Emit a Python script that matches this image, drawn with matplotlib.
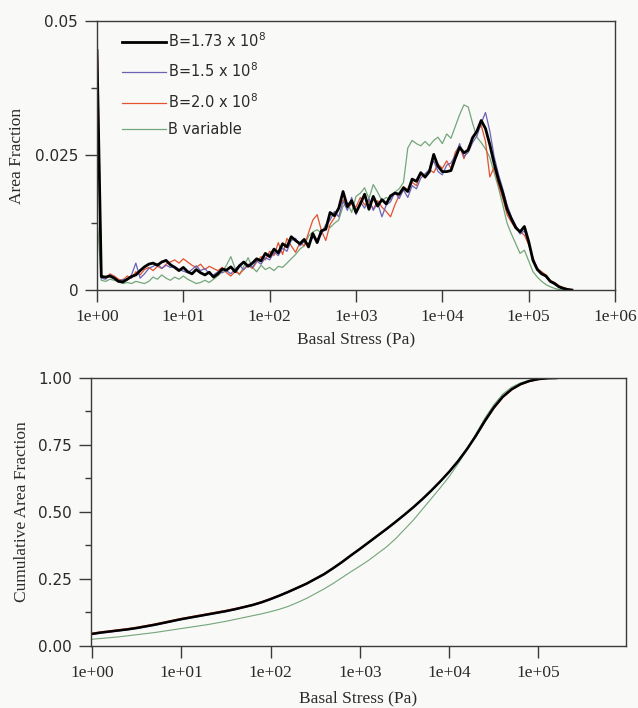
# Area fraction vs basal stress for several values of B
import numpy as np
import matplotlib
matplotlib.use('Agg')
import matplotlib.pyplot as plt
from matplotlib.ticker import FixedLocator, MultipleLocator

# bins in log10(stress), 20 per decade
log_stress = np.arange(0, 5.51, 0.05)
stress = 10 ** log_stress

# area fraction in units of 1e-3
frac_b173 = [44.5, 2.5, 2.4, 2.6, 2.2, 1.6, 1.5, 2.0, 2.5, 2.8,
             3.6, 4.3, 4.8, 5.0, 4.6, 5.2, 5.5, 4.7, 4.2, 3.6,
             4.2, 3.4, 3.0, 3.8, 3.2, 2.8, 3.3, 2.4, 3.0, 3.9,
             3.7, 4.3, 3.4, 4.5, 5.2, 4.4, 5.0, 5.8, 5.4, 6.8,
             6.2, 7.6, 6.9, 8.6, 8.0, 9.9, 9.2, 8.6, 9.4, 8.0,
             10.5, 8.8, 11.0, 11.3, 14.4, 13.8, 15.2, 18.3, 15.5, 16.6,
             14.4, 16.0, 17.8, 15.0, 17.4, 15.6, 16.8, 16.0, 17.5, 18.0,
             17.8, 19.0, 18.3, 20.6, 20.2, 21.8, 21.0, 22.0, 25.2, 23.0,
             22.0, 22.0, 22.2, 24.5, 26.5, 25.5, 26.0, 28.3, 29.5, 31.5,
             30.0, 27.0, 23.5, 20.5, 18.0, 15.0, 13.2, 11.6, 10.8, 11.8,
             9.0, 5.5, 3.8, 3.0, 2.6, 1.6, 1.2, 0.6, 0.3, 0.1, 0.0]

frac_b15 = [42.0, 2.2, 2.0, 2.8, 2.4, 1.5, 2.0, 1.8, 2.8, 5.0,
            2.2, 3.0, 4.0, 4.4, 4.9, 4.0, 4.6, 4.2, 4.4, 3.8,
            3.5, 3.2, 3.8, 4.5, 3.6, 4.0, 3.0, 2.8, 3.4, 3.2,
            3.6, 3.0, 3.9, 4.6, 3.8, 4.8, 4.2, 5.4, 4.8, 6.0,
            5.6, 7.0, 6.4, 7.8, 7.2, 9.2, 9.6, 8.2, 9.0, 8.6,
            9.8, 9.4, 10.4, 12.0, 13.0, 14.6, 13.6, 16.5, 14.8, 17.2,
            14.0, 16.4, 15.2, 17.0, 14.8, 16.2, 13.6, 15.8, 16.4, 18.2,
            17.0, 18.6, 17.2, 19.4, 18.8, 20.8, 21.6, 22.4, 24.0, 22.0,
            21.4, 23.2, 23.6, 25.0, 27.2, 24.8, 25.6, 27.4, 28.6, 31.0,
            33.0, 29.5, 24.8, 21.5, 18.8, 15.8, 13.6, 12.0, 10.4, 11.0,
            8.8, 5.8, 4.0, 3.2, 2.4, 1.6, 1.0, 0.6, 0.3, 0.1, 0.0]

frac_b20 = [50.0, 2.8, 2.2, 3.0, 2.6, 2.0, 1.8, 2.6, 2.2, 3.4,
            2.8, 3.8, 4.2, 3.6, 4.4, 4.0, 4.8, 5.2, 5.6, 5.0,
            5.8, 5.2, 4.6, 4.2, 4.8, 3.8, 4.4, 4.0, 3.6, 4.2,
            3.2, 2.6, 3.4, 3.0, 3.8, 4.6, 4.0, 5.2, 6.2, 5.6,
            7.2, 6.4, 8.8, 6.6, 9.6, 8.2, 7.0, 8.8, 8.2, 10.6,
            13.0, 14.0, 11.0, 9.2, 12.2, 13.4, 15.0, 16.8, 15.2, 16.0,
            15.4, 17.2, 15.8, 16.6, 15.0, 16.6, 15.4, 14.6, 13.6, 15.8,
            17.6, 19.2, 18.6, 20.0, 19.4, 21.6, 20.8, 22.4, 21.8, 23.4,
            22.6, 24.0, 22.6, 25.6, 26.8, 24.4, 26.6, 28.0, 29.4, 30.6,
            27.6, 21.0, 22.8, 19.6, 17.0, 14.0, 12.6, 11.4, 10.8, 10.2,
            8.4, 6.0, 4.0, 3.4, 2.8, 1.8, 1.4, 0.8, 0.5, 0.2, 0.0]

frac_bvar = [14.0, 1.8, 1.6, 2.0, 1.8, 1.5, 1.2, 1.4, 1.2, 1.6,
             1.4, 1.2, 1.6, 2.4, 2.0, 2.8, 2.2, 1.8, 2.4, 2.0,
             2.6, 2.0, 1.6, 1.2, 1.4, 1.8, 1.4, 2.0, 2.6, 3.4,
             4.6, 6.2, 4.0, 2.8, 4.4, 6.0, 4.2, 3.4, 4.6, 3.8,
             4.2, 3.6, 4.4, 4.2, 5.0, 5.8, 6.6, 7.6, 8.2, 10.0,
             10.8, 11.2, 10.6, 12.2, 11.6, 12.4, 13.0, 15.6, 16.2, 14.4,
             17.4, 18.0, 19.0, 17.0, 19.6, 18.2, 16.6, 17.2, 16.8, 18.2,
             18.8, 20.0, 26.4, 27.8, 27.2, 26.8, 27.6, 26.8, 27.8, 28.4,
             27.2, 29.0, 28.2, 30.4, 32.6, 34.4, 34.0, 31.0, 28.4, 27.4,
             26.2, 24.6, 21.8, 19.0, 15.8, 12.4, 10.4, 8.6, 6.8, 7.4,
             5.4, 3.4, 2.4, 1.6, 1.0, 0.6, 0.3, 0.1, 0.0, 0.0, 0.0]

# cumulative area fraction, 10 per decade
log_stress_c = np.arange(0, 5.21, 0.1)
stress_c = 10 ** log_stress_c

cum_b173 = [0.045, 0.050, 0.054, 0.058, 0.062, 0.067, 0.073, 0.079, 0.086, 0.093,
            0.100, 0.106, 0.112, 0.118, 0.124, 0.130, 0.137, 0.145, 0.153, 0.163,
            0.175, 0.188, 0.202, 0.217, 0.232, 0.250, 0.268, 0.290, 0.313, 0.338,
            0.362, 0.387, 0.412, 0.437, 0.463, 0.490, 0.518, 0.548, 0.580, 0.614,
            0.650, 0.690, 0.735, 0.785, 0.840, 0.890, 0.930, 0.958, 0.977, 0.989,
            0.996, 0.999, 1.000]
cum_b15 = [0.043, 0.048, 0.052, 0.056, 0.060, 0.065, 0.071, 0.077, 0.084, 0.091,
           0.098, 0.104, 0.110, 0.116, 0.122, 0.128, 0.135, 0.143, 0.151, 0.161,
           0.173, 0.186, 0.200, 0.215, 0.230, 0.248, 0.266, 0.288, 0.311, 0.336,
           0.360, 0.385, 0.410, 0.435, 0.461, 0.488, 0.516, 0.546, 0.578, 0.612,
           0.648, 0.687, 0.731, 0.781, 0.836, 0.887, 0.928, 0.957, 0.976, 0.988,
           0.995, 0.999, 1.000]
cum_b20 = [0.048, 0.053, 0.057, 0.061, 0.065, 0.070, 0.076, 0.082, 0.089, 0.096,
           0.103, 0.109, 0.115, 0.121, 0.127, 0.133, 0.140, 0.147, 0.155, 0.165,
           0.177, 0.190, 0.204, 0.219, 0.234, 0.252, 0.270, 0.292, 0.315, 0.340,
           0.364, 0.389, 0.414, 0.439, 0.465, 0.491, 0.519, 0.549, 0.581, 0.615,
           0.651, 0.690, 0.734, 0.783, 0.836, 0.885, 0.926, 0.955, 0.975, 0.987,
           0.994, 0.998, 1.000]
cum_bvar = [0.025, 0.028, 0.031, 0.034, 0.038, 0.042, 0.046, 0.050, 0.055, 0.060,
            0.065, 0.070, 0.075, 0.080, 0.086, 0.092, 0.099, 0.106, 0.113, 0.120,
            0.128, 0.137, 0.148, 0.162, 0.177, 0.195, 0.213, 0.233, 0.255, 0.277,
            0.298, 0.320, 0.345, 0.370, 0.400, 0.435, 0.470, 0.510, 0.550, 0.590,
            0.632, 0.680, 0.732, 0.792, 0.850, 0.900, 0.940, 0.966, 0.982, 0.992,
            0.997, 1.000, 1.000]

labels = ['B=1.73 x 10$^{8}$', 'B=1.5 x 10$^{8}$', 'B=2.0 x 10$^{8}$', 'B variable']
colors = ['#000000', '#6a62b4', '#e4522e', '#74a67a']
widths = [2.0, 0.9, 0.9, 0.9]

x_ticks = [1e0, 1e1, 1e2, 1e3, 1e4, 1e5, 1e6]
x_ticklabels = ['1e+00', '1e+01', '1e+02', '1e+03', '1e+04', '1e+05', '1e+06']

bg = '#f9f9f8'
spine_col = '#3a3a3a'
text_col = '#2a2a2a'
serif = 'Liberation Serif'

fig = plt.figure(figsize=(6.38, 7.08), dpi=100, facecolor=bg)

# ---- top panel: area fraction ----
ax1 = fig.add_axes([0.152, 0.5904, 0.812, 0.380], facecolor=bg)
series = [frac_b173, frac_b15, frac_b20, frac_bvar]
order = [3, 2, 1, 0]  # draw black last
lines = {}
for i in order:
    ln, = ax1.plot(stress, np.array(series[i]) * 1e-3, color=colors[i],
                   lw=widths[i], label=labels[i])
    lines[i] = ln
ax1.set_xscale('log')
ax1.set_xlim(1, 1e6)
ax1.set_ylim(0, 0.05)
ax1.xaxis.set_major_locator(FixedLocator(x_ticks))
ax1.xaxis.set_minor_locator(FixedLocator([]))
ax1.set_xticklabels(x_ticklabels, fontfamily=serif, fontsize=12.5)
ax1.set_yticks([0, 0.025, 0.05])
ax1.set_yticklabels(['0', '0.025', '0.05'], fontsize=11)
ax1.yaxis.set_minor_locator(MultipleLocator(0.0125))
ax1.set_xlabel('Basal Stress (Pa)', fontfamily=serif, fontsize=12.5, labelpad=5,
               color=text_col)
ax1.set_ylabel('Area Fraction', fontfamily=serif, fontsize=12.5, labelpad=7,
               color=text_col)
ax1.legend([lines[i] for i in range(4)], labels, loc='upper left',
           bbox_to_anchor=(0.048, 0.962), frameon=False, fontsize=10.5,
           handlelength=3.0, handletextpad=0.15, labelspacing=0.8,
           borderpad=0, borderaxespad=0, labelcolor=text_col)

# ---- bottom panel: cumulative ----
ax2 = fig.add_axes([0.1426, 0.0876, 0.8386, 0.3785], facecolor=bg)
cseries = [cum_b173, cum_b15, cum_b20, cum_bvar]
for i in order:
    ax2.plot(stress_c, cseries[i], color=colors[i], lw=widths[i] * 0.9)
ax2.set_xscale('log')
ax2.set_xlim(10 ** -0.01, 10 ** 5.98)
ax2.set_ylim(0, 1)
ax2.xaxis.set_major_locator(FixedLocator(x_ticks[:-1]))
ax2.xaxis.set_minor_locator(FixedLocator([]))
ax2.set_xticklabels(x_ticklabels[:-1], fontfamily=serif, fontsize=12.5)
ax2.set_yticks([0, 0.25, 0.5, 0.75, 1.0])
ax2.set_yticklabels(['0.00', '0.25', '0.50', '0.75', '1.00'], fontsize=11)
ax2.yaxis.set_minor_locator(MultipleLocator(0.125))
ax2.set_xlabel('Basal Stress (Pa)', fontfamily=serif, fontsize=12.5, labelpad=7,
               color=text_col)
ax2.set_ylabel('Cumulative Area Fraction', fontfamily=serif, fontsize=12.5,
               labelpad=6, color=text_col)

for ax in (ax1, ax2):
    for s in ax.spines.values():
        s.set_color(spine_col)
        s.set_linewidth(1.0)
    ax.tick_params(which='major', direction='out', length=8.5, width=1,
                   color=spine_col, labelcolor=text_col, pad=5)
    ax.tick_params(which='minor', direction='out', length=4.5, width=1,
                   color=spine_col)

fig.savefig('out.png', dpi=100, facecolor=bg)
